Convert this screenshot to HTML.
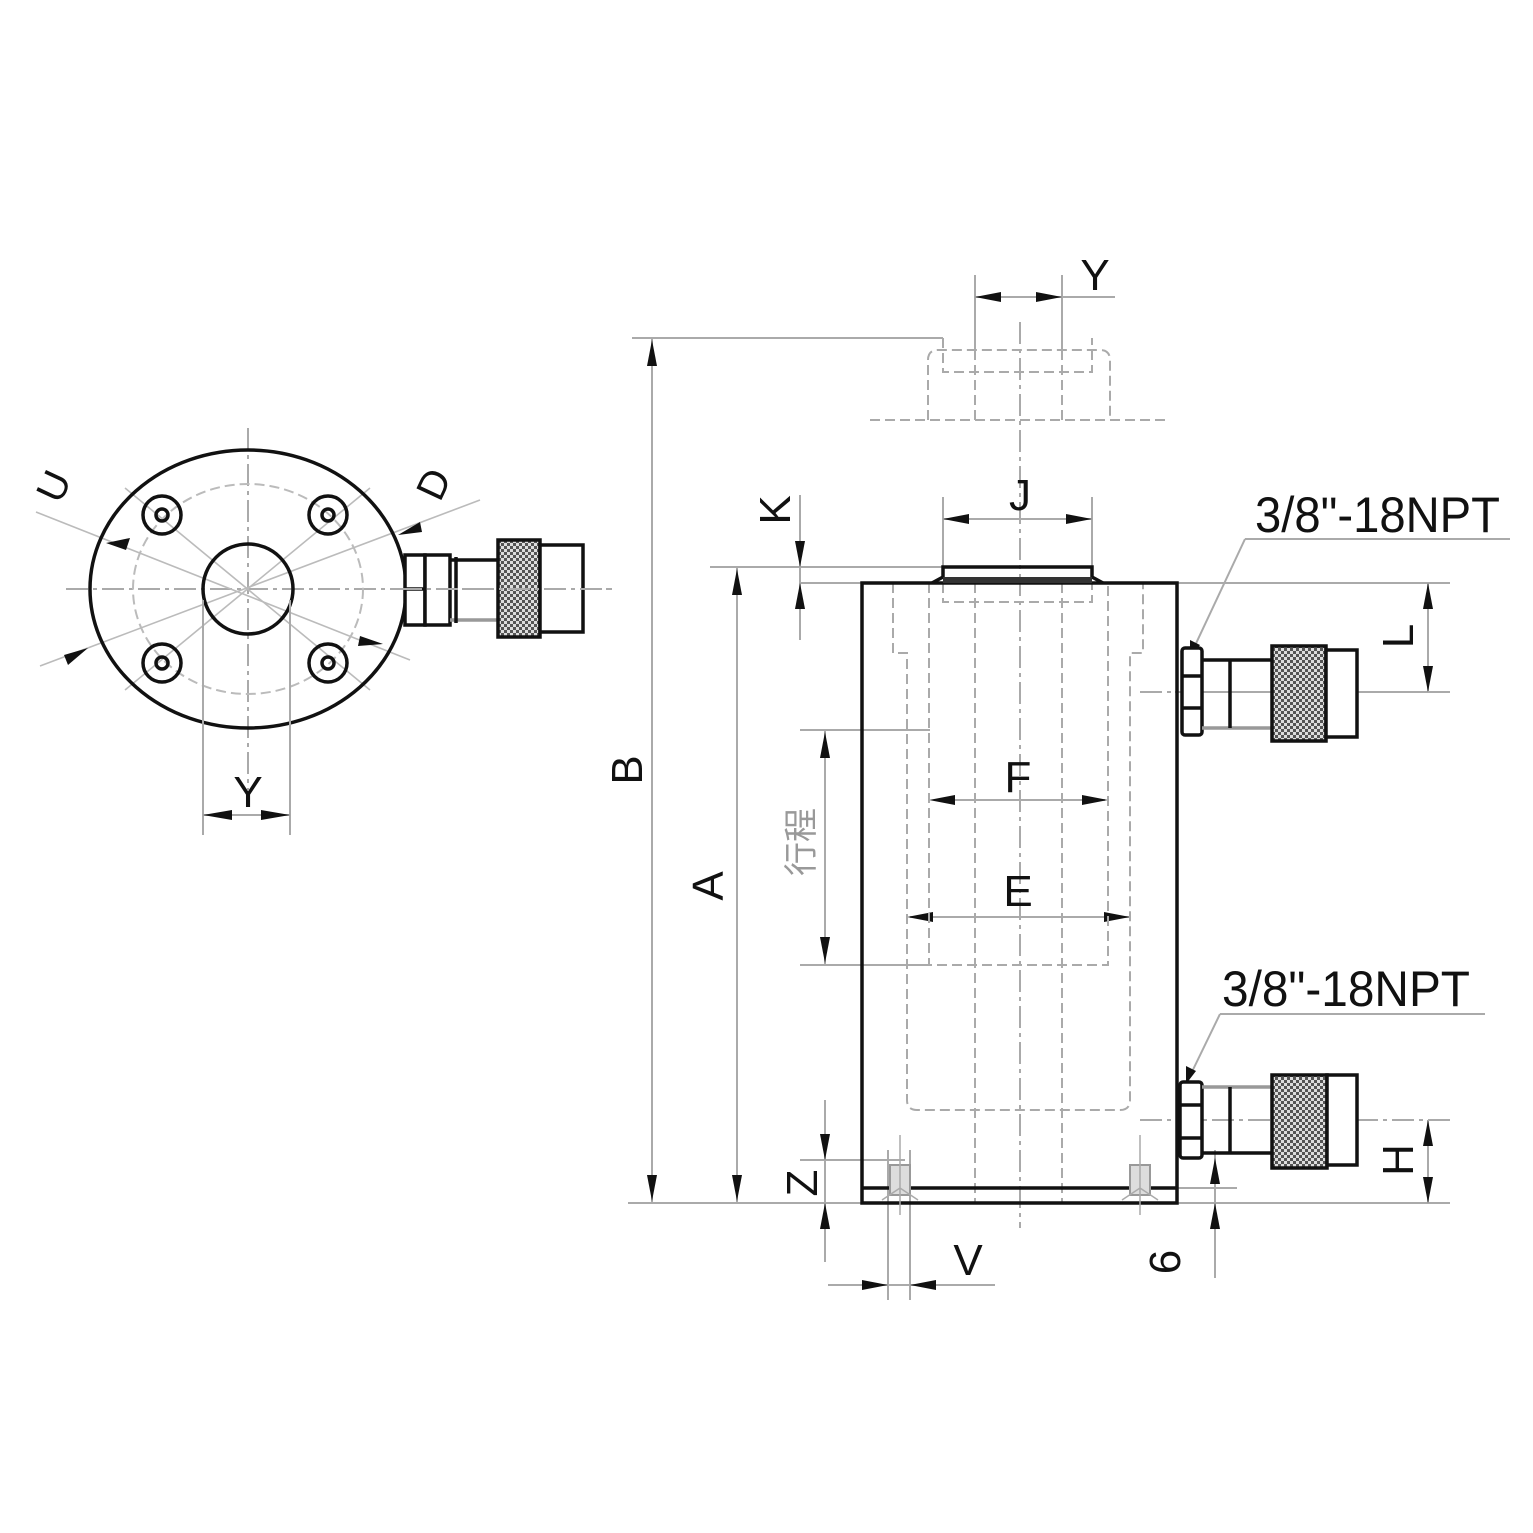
<!DOCTYPE html>
<html><head><meta charset="utf-8"><style>
html,body{margin:0;padding:0;background:#fff}
svg{display:block}
text{font-family:"Liberation Sans","Noto Sans CJK SC",sans-serif}
</style></head><body>
<svg width="1533" height="1533" viewBox="0 0 1533 1533" xmlns="http://www.w3.org/2000/svg">
<defs>
<pattern id="kn" width="6" height="6" patternUnits="userSpaceOnUse">
<rect width="6" height="6" fill="#ddd"/><rect width="3" height="3" fill="#555"/><rect x="3" y="3" width="3" height="3" fill="#555"/>
</pattern>
</defs>
<rect width="1533" height="1533" fill="#fff"/>

<!-- ============ LEFT VIEW ============ -->
<g fill="none">
<g stroke="#aaa" stroke-width="2" stroke-dasharray="22,5,4,5">
<line x1="66" y1="589" x2="612" y2="589"/>
<line x1="248" y1="428" x2="248" y2="790"/>
</g>
<g stroke="#bbb" stroke-width="1.6">
<line x1="36" y1="512" x2="410" y2="660"/>
<line x1="40" y1="666" x2="480" y2="500"/>
<line x1="125" y1="488" x2="370" y2="690"/>
<line x1="370" y1="488" x2="125" y2="690"/>
</g>
<ellipse cx="248" cy="589" rx="115" ry="105" stroke="#bbb" stroke-width="2" stroke-dasharray="10,5"/>
<ellipse cx="248" cy="589" rx="158" ry="139" stroke="#111" stroke-width="3.5"/>
<circle cx="248" cy="589" r="45" stroke="#111" stroke-width="3.5"/>
<g stroke="#111" stroke-width="3.5">
<circle cx="162" cy="515" r="19"/><circle cx="162" cy="515" r="6"/>
<circle cx="328" cy="515" r="19"/><circle cx="328" cy="515" r="6"/>
<circle cx="162" cy="663" r="19"/><circle cx="162" cy="663" r="6"/>
<circle cx="328" cy="663" r="19"/><circle cx="328" cy="663" r="6"/>
</g>
<g stroke="#aaa" stroke-width="2">
<line x1="203" y1="600" x2="203" y2="835"/>
<line x1="290" y1="600" x2="290" y2="835"/>
<line x1="203" y1="815" x2="290" y2="815"/>
</g>
</g>
<g fill="#111">
<polygon points="203,815 232,810 232,820"/>
<polygon points="290,815 261,810 261,820"/>
<polygon points="106,543 130,538 126,550"/>
<polygon points="88,648 64,655 68,665"/>
<polygon points="383,644 360,636 358,646"/>
<polygon points="398,535 420,522 422,532"/>
</g>
<g stroke="#111" stroke-width="3.5" fill="#fff">
<rect x="405" y="555" width="20" height="70"/>
<line x1="405" y1="589" x2="425" y2="589"/>
<rect x="425" y="555" width="25" height="70"/>
<line x1="450" y1="560" x2="498" y2="560"/>
<line x1="450" y1="620" x2="498" y2="620" stroke="#999"/>
<line x1="456" y1="557" x2="456" y2="623"/>
<rect x="498" y="540" width="42" height="97" fill="url(#kn)"/>
<rect x="540" y="545" width="43" height="87"/>
</g>
<line x1="400" y1="589" x2="612" y2="589" stroke="#aaa" stroke-width="2" stroke-dasharray="22,5,4,5"/>
<text x="248" y="807" font-size="44" text-anchor="middle" fill="#111">Y</text>
<text x="0" y="0" font-size="40" fill="#111" transform="translate(60,505) rotate(-65)">U</text>
<text x="0" y="0" font-size="40" fill="#111" transform="translate(440,503) rotate(-65)">D</text>

<!-- ============ RIGHT VIEW ============ -->
<g stroke="#aaa" stroke-width="2" fill="none">
<line x1="632" y1="338" x2="943" y2="338"/>
<line x1="652" y1="338" x2="652" y2="1203"/>
<line x1="710" y1="567" x2="943" y2="567"/>
<line x1="737" y1="567" x2="737" y2="1203"/>
<line x1="800" y1="730" x2="930" y2="730"/>
<line x1="800" y1="965" x2="930" y2="965"/>
<line x1="825" y1="730" x2="825" y2="965"/>
<line x1="800" y1="495" x2="800" y2="640"/>
<line x1="800" y1="583" x2="862" y2="583"/>
<line x1="628" y1="1203" x2="1450" y2="1203"/>
<line x1="800" y1="1160" x2="905" y2="1160"/>
<line x1="825" y1="1100" x2="825" y2="1262"/>
<line x1="888" y1="1150" x2="888" y2="1300"/>
<line x1="910" y1="1150" x2="910" y2="1300"/>
<line x1="828" y1="1285" x2="995" y2="1285"/>
<line x1="1177" y1="1188" x2="1237" y2="1188"/>
<line x1="1215" y1="1150" x2="1215" y2="1278"/>
<line x1="1177" y1="583" x2="1450" y2="583"/>
<line x1="1175" y1="692" x2="1450" y2="692"/>
<line x1="1428" y1="583" x2="1428" y2="692"/>
<line x1="1428" y1="1120" x2="1428" y2="1203"/>
<line x1="975" y1="275" x2="975" y2="350"/>
<line x1="1062" y1="275" x2="1062" y2="350"/>
<line x1="975" y1="297" x2="1115" y2="297"/>
<line x1="943" y1="497" x2="943" y2="567"/>
<line x1="1092" y1="497" x2="1092" y2="567"/>
<line x1="943" y1="519" x2="1092" y2="519"/>
<line x1="935" y1="800" x2="1105" y2="800"/>
<line x1="910" y1="917" x2="1130" y2="917"/>
<line x1="1245" y1="539" x2="1510" y2="539"/>
<line x1="1245" y1="539" x2="1192" y2="652"/>
<line x1="1220" y1="1014" x2="1485" y2="1014"/>
<line x1="1220" y1="1014" x2="1188" y2="1080"/>
</g>
<g fill="#111">
<polygon points="652,340 647,366 657,366"/>
<polygon points="652,1201 647,1175 657,1175"/>
<polygon points="737,569 732,595 742,595"/>
<polygon points="737,1201 732,1175 742,1175"/>
<polygon points="825,732 820,758 830,758"/>
<polygon points="825,963 820,937 830,937"/>
<polygon points="800,567 795,541 805,541"/>
<polygon points="800,583 795,609 805,609"/>
<polygon points="825,1160 820,1134 830,1134"/>
<polygon points="825,1203 820,1229 830,1229"/>
<polygon points="888,1285 862,1280 862,1290"/>
<polygon points="910,1285 936,1280 936,1290"/>
<polygon points="1215,1158 1210,1184 1220,1184"/>
<polygon points="1215,1203 1210,1229 1220,1229"/>
<polygon points="1428,583 1423,609 1433,609"/>
<polygon points="1428,692 1423,666 1433,666"/>
<polygon points="1428,1120 1423,1146 1433,1146"/>
<polygon points="1428,1203 1423,1177 1433,1177"/>
<polygon points="975,297 1001,292 1001,302"/>
<polygon points="1062,297 1036,292 1036,302"/>
<polygon points="943,519 969,514 969,524"/>
<polygon points="1092,519 1066,514 1066,524"/>
<polygon points="929,800 955,795 955,805"/>
<polygon points="1108,800 1082,795 1082,805"/>
<polygon points="907,917 933,912 933,922"/>
<polygon points="1130,917 1104,912 1104,922"/>
<polygon points="1190,658 1190,640 1200,645"/>
<polygon points="1186,1084 1186,1066 1196,1071"/>
</g>
<g stroke="#aaa" stroke-width="2" fill="none" stroke-dasharray="10,5">
<path d="M928,420 V360 Q928,350 938,350 H1100 Q1110,350 1110,360 V420"/>
<path d="M943,338 V372 H1092 V338"/>
<line x1="870" y1="420" x2="1165" y2="420"/>
<path d="M943,583 V602 H1092 V583"/>
<path d="M893,583 V653 H907 V1100 Q907,1110 917,1110 H1120 Q1130,1110 1130,1100 V653 H1143 V583"/>
<path d="M929,583 V965 H1108 V583"/>
<line x1="975" y1="583" x2="975" y2="1203"/>
<line x1="1062" y1="583" x2="1062" y2="1203"/>
<line x1="975" y1="350" x2="975" y2="420"/>
<line x1="1062" y1="350" x2="1062" y2="420"/>
</g>
<g stroke="#aaa" stroke-width="2" fill="none" stroke-dasharray="22,5,4,5">
<line x1="1020" y1="322" x2="1020" y2="1228"/>
<line x1="1140" y1="692" x2="1450" y2="692"/>
<line x1="1140" y1="1120" x2="1450" y2="1120"/>
</g>
<g stroke="#111" stroke-width="3.5" fill="none">
<path d="M862,1203 V583 H1177 V1203 Z"/>
<line x1="862" y1="1188" x2="1177" y2="1188"/>
<path d="M932,583 L943,577 V567 H1092 V577 L1103,583"/>
</g>
<rect x="943" y="577" width="149" height="6" fill="#333"/>
<g stroke="#999" stroke-width="2" fill="#ddd">
<rect x="890" y="1165" width="20" height="30"/>
<rect x="1130" y="1165" width="20" height="30"/>
</g>
<g stroke="#aaa" stroke-width="1.5" fill="none">
<path d="M900,1135 V1215 M882,1200 L900,1188 L918,1200"/>
<path d="M1140,1135 V1215 M1122,1200 L1140,1188 L1158,1200"/>
</g>
<g stroke="#111" stroke-width="3.5" fill="#fff">
<rect x="1182" y="648" width="20" height="87" rx="3"/>
<line x1="1182" y1="676" x2="1202" y2="676"/><line x1="1182" y1="708" x2="1202" y2="708"/>
<line x1="1202" y1="660" x2="1272" y2="660"/>
<line x1="1202" y1="728" x2="1272" y2="728" stroke="#999"/>
<line x1="1230" y1="660" x2="1230" y2="728"/>
<rect x="1272" y="646" width="54" height="95" fill="url(#kn)"/>
<rect x="1326" y="650" width="31" height="87"/>
<rect x="1180" y="1082" width="22" height="76" rx="3"/>
<line x1="1180" y1="1105" x2="1202" y2="1105"/><line x1="1180" y1="1138" x2="1202" y2="1138"/>
<line x1="1202" y1="1087" x2="1272" y2="1087" stroke="#999"/>
<line x1="1202" y1="1153" x2="1272" y2="1153"/>
<line x1="1230" y1="1087" x2="1230" y2="1153"/>
<rect x="1272" y="1075" width="55" height="93" fill="url(#kn)"/>
<rect x="1327" y="1075" width="30" height="90"/>
</g>
<g fill="#111" font-size="44">
<text x="1095" y="290" text-anchor="middle">Y</text>
<text x="1020" y="510" text-anchor="middle">J</text>
<text x="1018" y="792" text-anchor="middle">F</text>
<text x="1018" y="906" text-anchor="middle">E</text>
<text x="968" y="1275" text-anchor="middle">V</text>
<text x="1255" y="532" font-size="50" textLength="245" lengthAdjust="spacingAndGlyphs">3/8"-18NPT</text>
<text x="1222" y="1006" font-size="50" textLength="248" lengthAdjust="spacingAndGlyphs">3/8"-18NPT</text>
<text transform="translate(642,770) rotate(-90)" text-anchor="middle">B</text>
<text transform="translate(723,886) rotate(-90)" text-anchor="middle">A</text>
<text transform="translate(790,510) rotate(-90)" text-anchor="middle">K</text>
<text transform="translate(817,1183) rotate(-90)" text-anchor="middle">Z</text>
<text transform="translate(1413,636) rotate(-90)" text-anchor="middle">L</text>
<text transform="translate(1413,1160) rotate(-90)" text-anchor="middle">H</text>
<text transform="translate(1180,1262) rotate(-90)" text-anchor="middle">6</text>
<text transform="translate(813,842) rotate(-90)" text-anchor="middle" font-size="34" fill="#999">行程</text>
</g>
</svg>
</body></html>
